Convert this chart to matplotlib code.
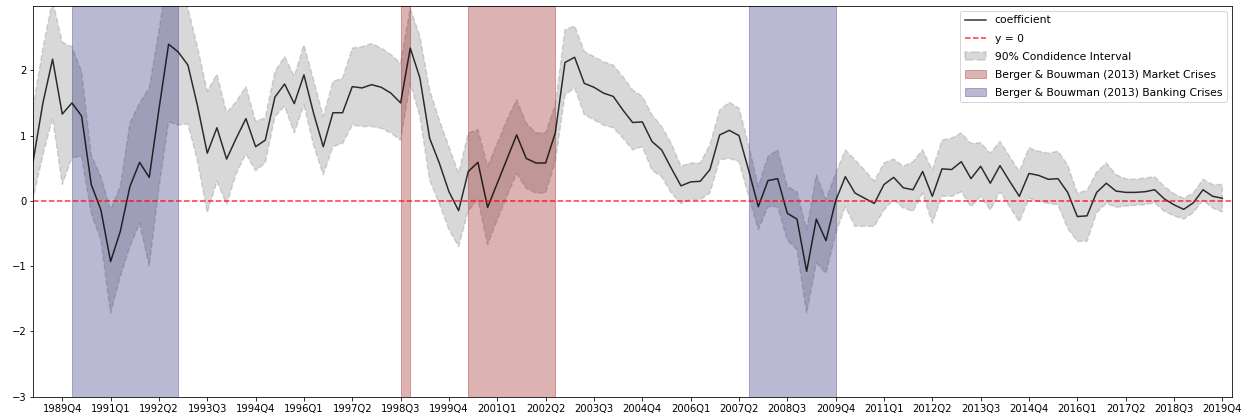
import matplotlib
matplotlib.use("Agg")
import matplotlib.pyplot as plt
import numpy as np

# quarterly sample 1989Q1 - 2019Q4
start_year = 1989
n_quarters = 124

coef = [0.62, 1.50, 2.17, 1.33, 1.50, 1.30, 0.25, -0.14, -0.93, -0.47,
        0.22, 0.59, 0.36, 1.40, 2.40, 2.28, 2.08, 1.45, 0.73, 1.12,
        0.64, 0.96, 1.26, 0.83, 0.93, 1.59, 1.79, 1.49, 1.93, 1.34,
        0.83, 1.35, 1.35, 1.75, 1.73, 1.78, 1.74, 1.65, 1.50, 2.34,
        1.88, 0.96, 0.58, 0.14, -0.15, 0.45, 0.59, -0.10, 0.27, 0.64,
        1.01, 0.65, 0.58, 0.58, 1.04, 2.12, 2.20, 1.80, 1.74, 1.65,
        1.60, 1.39, 1.20, 1.21, 0.91, 0.78, 0.50, 0.23, 0.29, 0.30,
        0.48, 1.01, 1.08, 1.00, 0.47, -0.09, 0.31, 0.34, -0.19, -0.28,
        -1.08, -0.28, -0.61, 0.00, 0.37, 0.12, 0.04, -0.04, 0.25, 0.36,
        0.20, 0.17, 0.45, 0.07, 0.49, 0.48, 0.60, 0.34, 0.53, 0.27,
        0.54, 0.30, 0.07, 0.42, 0.39, 0.33, 0.34, 0.13, -0.24, -0.23,
        0.13, 0.27, 0.15, 0.13, 0.13, 0.14, 0.17, 0.03, -0.06, -0.13,
        -0.03, 0.17, 0.07, 0.04]

upper = [1.45, 2.34, 3.07, 2.43, 2.36, 1.98, 0.70, 0.37, -0.14, 0.22,
         1.19, 1.50, 1.73, 2.60, 3.55, 3.35, 2.95, 2.35, 1.68, 1.94,
         1.35, 1.52, 1.75, 1.22, 1.27, 1.98, 2.21, 1.91, 2.39, 1.85,
         1.29, 1.83, 1.88, 2.34, 2.36, 2.41, 2.34, 2.24, 2.11, 2.95,
         2.52, 1.70, 1.24, 0.83, 0.42, 1.04, 1.09, 0.53, 0.88, 1.24,
         1.55, 1.19, 1.04, 1.04, 1.47, 2.62, 2.68, 2.29, 2.21, 2.13,
         2.08, 1.90, 1.70, 1.60, 1.32, 1.14, 0.88, 0.53, 0.58, 0.58,
         0.86, 1.39, 1.51, 1.42, 0.86, 0.22, 0.68, 0.78, 0.22, 0.14,
         -0.44, 0.40, 0.02, 0.42, 0.78, 0.63, 0.47, 0.30, 0.58, 0.64,
         0.53, 0.60, 0.78, 0.47, 0.93, 0.96, 1.04, 0.88, 0.89, 0.73,
         0.91, 0.68, 0.45, 0.81, 0.76, 0.73, 0.76, 0.55, 0.12, 0.16,
         0.44, 0.58, 0.40, 0.34, 0.33, 0.35, 0.37, 0.22, 0.11, 0.04,
         0.12, 0.33, 0.25, 0.25]

lower = [0.05, 0.70, 1.27, 0.25, 0.66, 0.68, -0.19, -0.60, -1.72, -1.16,
         -0.70, -0.34, -1.00, 0.20, 1.21, 1.16, 1.18, 0.60, -0.18, 0.30,
         -0.05, 0.42, 0.72, 0.46, 0.58, 1.29, 1.45, 1.04, 1.47, 0.85,
         0.40, 0.83, 0.88, 1.16, 1.14, 1.14, 1.11, 1.04, 0.93, 1.80,
         1.29, 0.32, -0.04, -0.44, -0.70, -0.15, 0.02, -0.67, -0.29, 0.07,
         0.42, 0.19, 0.12, 0.12, 0.60, 1.62, 1.73, 1.32, 1.24, 1.16,
         1.12, 0.96, 0.78, 0.83, 0.47, 0.37, 0.12, -0.04, 0.02, 0.02,
         0.12, 0.63, 0.65, 0.60, 0.07, -0.44, -0.09, -0.09, -0.60, -0.75,
         -1.72, -0.95, -1.11, -0.50, -0.09, -0.39, -0.39, -0.39, -0.14, 0.02,
         -0.11, -0.16, 0.12, -0.34, 0.07, 0.07, 0.14, -0.09, 0.07, -0.14,
         0.14, -0.09, -0.32, 0.04, -0.01, -0.04, -0.06, -0.42, -0.62, -0.62,
         -0.18, -0.04, -0.10, -0.08, -0.07, -0.06, -0.03, -0.16, -0.23, -0.28,
         -0.18, 0.01, -0.11, -0.17]

tick_labels = ["1989Q4", "1991Q1", "1992Q2", "1993Q3", "1994Q4", "1996Q1",
               "1997Q2", "1998Q3", "1999Q4", "2001Q1", "2002Q2", "2003Q3",
               "2004Q4", "2006Q1", "2007Q2", "2008Q3", "2009Q4", "2011Q1",
               "2012Q2", "2013Q3", "2014Q4", "2016Q1", "2017Q2", "2018Q3",
               "2019Q4"]

market_crises = [("1998Q3", "1998Q4"), ("2000Q2", "2002Q3")]
banking_crises = [("1990Q1", "1992Q4"), ("2007Q3", "2009Q4")]


def q_index(label):
    year, q = label.split("Q")
    return (int(year) - start_year) * 4 + int(q) - 1


x = np.arange(len(coef))

fig = plt.figure(figsize=(1250 / 72, 418 / 72), dpi=72)
ax = fig.add_axes([0.0266, 0.051, 0.959, 0.9354])

ax.plot(x, coef, color="black", alpha=0.8, lw=1.5, label="coefficient")
ax.axhline(0, color="red", ls="--", lw=1.5, alpha=0.8, label="y = 0")
ax.fill_between(x, lower, upper, color="gray", alpha=0.3, ls="--", lw=1.5,
                label="90% Condidence Interval")

for i, (s, e) in enumerate(market_crises):
    ax.axvspan(q_index(s), q_index(e), color="darkred", alpha=0.3,
               label="Berger & Bouwman (2013) Market Crises" if i == 0 else None)
for i, (s, e) in enumerate(banking_crises):
    ax.axvspan(q_index(s), q_index(e), color="midnightblue", alpha=0.3,
               label="Berger & Bouwman (2013) Banking Crises" if i == 0 else None)

ax.set_xticks([q_index(t) for t in tick_labels])
ax.set_xticklabels(tick_labels, fontsize=10)
ax.tick_params(axis="y", labelsize=10)
ax.set_xlim(0, n_quarters)
ax.set_ylim(-3, 2.99)
ax.set_yticks([-3, -2, -1, 0, 1, 2])

ax.legend(loc="upper right", fontsize=10.8, labelspacing=0.75)

fig.savefig("out.png", dpi=72)
